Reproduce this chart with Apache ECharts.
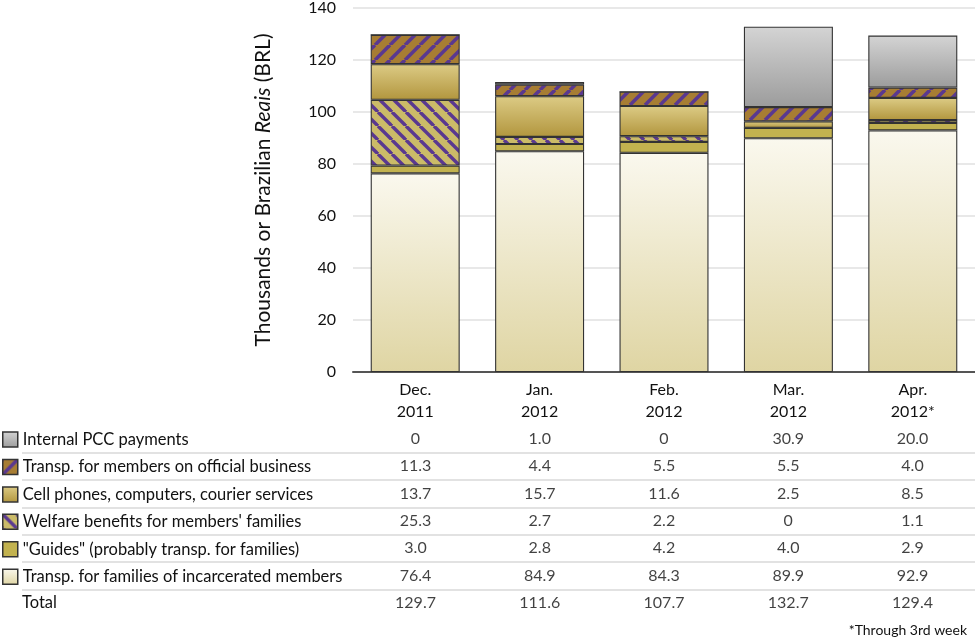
<!DOCTYPE html>
<html>
<head>
<meta charset="utf-8">
<script src="https://cdn.jsdelivr.net/npm/echarts@6/dist/echarts.min.js"></script>
<style>
html,body{margin:0;padding:0;background:#fff;}
#chart{width:975px;height:643px;}
</style>
</head>
<body>
<div id="chart"></div>
<script>
// ---- Data ----
const categories = ['Dec.\n2011', 'Jan.\n2012', 'Feb.\n2012', 'Mar.\n2012', 'Apr.\n2012*'];
const transFamilies = [76.4, 84.9, 84.3, 89.9, 92.9];
const guides = [3.0, 2.8, 4.2, 4.0, 2.9];
const welfare = [25.3, 2.7, 2.2, 0, 1.1];
const cellPhones = [13.7, 15.7, 11.6, 2.5, 8.5];
const officialTransp = [11.3, 4.4, 5.5, 5.5, 4.0];
const internalPCC = [0, 1.0, 0, 30.9, 20.0];
const totals = [129.7, 111.6, 107.7, 132.7, 129.4];
const yTicks = [0, 20, 40, 60, 80, 100, 120, 140];

const names = {
  internal: 'Internal PCC payments',
  official: 'Transp. for members on official business',
  cell: 'Cell phones, computers, courier services',
  welfare: "Welfare benefits for members' families",
  guides: '"Guides" (probably transp. for families)',
  families: 'Transp. for families of incarcerated members'
};

// ---- Patterns ----
function stripes(base, stripe, period, width, dir) {
  const c = document.createElement('canvas');
  c.width = period; c.height = period;
  const g = c.getContext('2d');
  g.fillStyle = base; g.fillRect(0, 0, period, period);
  g.strokeStyle = stripe; g.lineWidth = width;
  for (let k = -1; k <= 1; k++) {
    g.beginPath();
    if (dir === '\\') { g.moveTo(k * period, 0); g.lineTo(k * period + period, period); }
    else { g.moveTo(k * period, period); g.lineTo(k * period + period, 0); }
    g.stroke();
  }
  return { image: c, repeat: 'repeat' };
}
function vgrad(top, bottom) {
  return { type: 'linear', x: 0, y: 0, x2: 0, y2: 1, colorStops: [{ offset: 0, color: top }, { offset: 1, color: bottom }] };
}

const styles = {
  families: vgrad('#faf8ee', '#dfd5a3'),
  guides: '#c2b24f',
  welfare: stripes('#cbbb68', '#5a3890', 14, 3.4, '\\'),
  cell: vgrad('#dccb85', '#b2963e'),
  official: stripes('#a77d33', '#5a3890', 15, 3.6, '/'),
  internal: vgrad('#d4d4d4', '#9c9c9c')
};

const FONT = 'Lato';
const stackOrder = [
  ['families', transFamilies], ['guides', guides], ['welfare', welfare],
  ['cell', cellPhones], ['official', officialTransp], ['internal', internalPCC]
];

const series = stackOrder.map(([key, arr]) => ({
  name: names[key],
  type: 'bar',
  stack: 'total',
  xAxisIndex: 0, yAxisIndex: 0,
  barWidth: 89,
  data: arr,
  itemStyle: { color: styles[key], borderColor: '#333', borderWidth: 1.1 },
  emphasis: { disabled: true }
}));

// table rows, top to bottom
const tableRows = [internalPCC, officialTransp, cellPhones, welfare, guides, transFamilies, totals];
const rowKeys = ['r0', 'r1', 'r2', 'r3', 'r4', 'r5', 'total'];
const tableData = [];
tableRows.forEach((row, r) => row.forEach((v, i) => tableData.push([i, r, v])));

series.push({
  type: 'scatter',
  xAxisIndex: 1, yAxisIndex: 1,
  symbolSize: 0,
  silent: true,
  data: tableData,
  label: {
    show: true, position: 'inside',
    formatter: p => (p.value[2] === 0 ? '0' : p.value[2].toFixed(1)),
    fontFamily: FONT, fontSize: 16, color: '#111'
  }
});

const option = {
  animation: false,
  backgroundColor: '#fff',
  textStyle: { fontFamily: FONT },
  title: {
    text: '*Through 3rd week', right: 3, bottom: 1,
    textStyle: { fontFamily: FONT, fontSize: 14, fontWeight: 'normal', color: '#111' }
  },
  legend: {
    orient: 'vertical', left: 2, top: 431, padding: 0,
    itemWidth: 15, itemHeight: 15, itemGap: 10.45, itemTextGap: 5,
    icon: 'rect',
    selectedMode: false,
    data: [names.internal, names.official, names.cell, names.welfare, names.guides, names.families],
    textStyle: { fontFamily: FONT, fontSize: 16.5, lineHeight: 15, color: '#111' },
    itemStyle: { borderColor: '#333', borderWidth: 1.5 }
  },
  grid: [
    { left: 353, right: 0, top: 8, height: 364 },
    { left: 22, right: 0, top: 425.3, height: 191.3 }
  ],
  xAxis: [
    {
      type: 'category', gridIndex: 0, data: categories,
      axisLine: { lineStyle: { color: '#555', width: 2 } },
      axisTick: { show: false },
      axisLabel: { margin: 7, fontFamily: FONT, fontSize: 16, lineHeight: 22, color: '#111' }
    },
    { type: 'value', gridIndex: 1, min: -3.167, max: 4.503, show: false }
  ],
  yAxis: [
    {
      type: 'value', gridIndex: 0, min: yTicks[0], max: yTicks[yTicks.length - 1], interval: 20,
      axisLine: { show: false }, axisTick: { show: false },
      axisLabel: { margin: 17, fontFamily: FONT, fontSize: 16, color: '#111' },
      splitLine: { lineStyle: { color: '#e0e0e0', width: 1.5 } },
      name: '{a|Thousands or Brazilian }{i|Reais}{a| (BRL)}',
      nameLocation: 'middle', nameGap: 79, nameRotate: 90,
      nameTextStyle: {
        rich: {
          a: { fontFamily: FONT, fontSize: 21, color: '#111' },
          i: { fontFamily: FONT, fontSize: 21, color: '#111', fontStyle: 'italic' }
        }
      }
    },
    {
      type: 'category', gridIndex: 1, data: rowKeys, inverse: true,
      axisLine: { show: false }, axisTick: { show: false },
      axisLabel: {
        inside: true, margin: 0, interval: 0,
        formatter: v => (v === 'total' ? 'Total' : ''),
        fontFamily: FONT, fontSize: 16.5, color: '#111'
      },
      splitLine: { show: true, interval: 0, showMinLine: false, showMaxLine: false, lineStyle: { color: '#d8d8d8', width: 1.5 } }
    }
  ],
  series: series
};

const chart = echarts.init(document.getElementById('chart'));
chart.setOption(option);
</script>
</body>
</html>
